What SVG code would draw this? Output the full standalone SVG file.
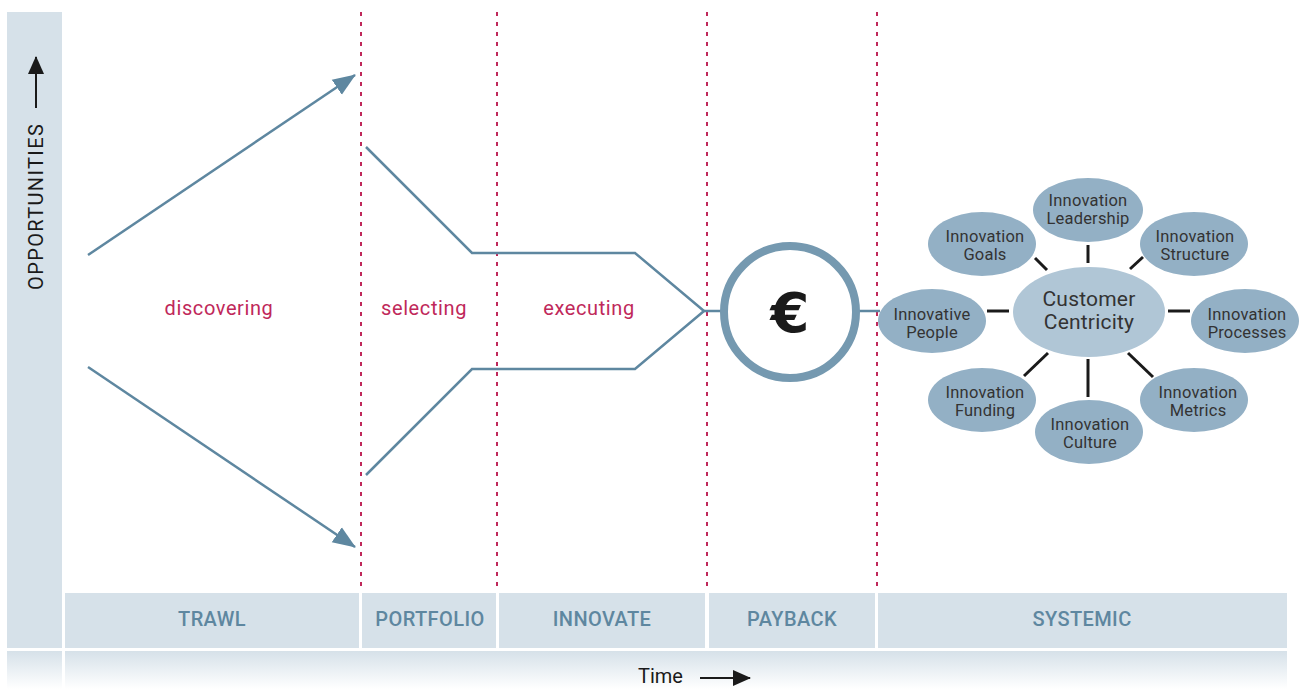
<svg xmlns="http://www.w3.org/2000/svg" width="1301" height="689" viewBox="0 0 1301 689">
<defs>
<linearGradient id="fade" x1="0" y1="0" x2="0" y2="1">
<stop offset="0" stop-color="#d6e1e9"/>
<stop offset="1" stop-color="#ffffff"/>
</linearGradient>
<marker id="ah" markerWidth="24" markerHeight="20" refX="22" refY="10" orient="auto" markerUnits="userSpaceOnUse" viewBox="0 0 24 20">
<path d="M0,1 L23,10 L0,19 Z" fill="#5e87a0"/>
</marker>
<marker id="ahb" markerWidth="18" markerHeight="18" refX="17" refY="9" orient="auto" markerUnits="userSpaceOnUse" viewBox="0 0 18 18">
<path d="M0,1 L18,9 L0,17 Z" fill="#1a1a1a"/>
</marker>
</defs>
<style>
.band{fill:#d6e1e9}
.div{stroke:#c0285a;stroke-width:2;stroke-dasharray:4 6;fill:none}
.flow{stroke:#5e87a0;stroke-width:2.5;fill:none}
.phase{font-family:Roboto,"Liberation Sans",sans-serif;font-size:20px;fill:#c0285a;text-anchor:middle;letter-spacing:0.6px}
.blab{font-family:Roboto,"Liberation Sans",sans-serif;font-size:20px;font-weight:500;fill:#5e87a0;text-anchor:middle;letter-spacing:0.4px}
.el{fill:#93b0c5}
.elt{font-family:Roboto,"Liberation Sans",sans-serif;font-size:16.5px;fill:#333333;text-anchor:middle;letter-spacing:0.2px}
.spoke{stroke:#1a1a1a;stroke-width:3}
</style>
<g id="background">
<rect class="band" x="7" y="12" width="55" height="636"/>
<rect x="7" y="651" width="55" height="38" fill="url(#fade)"/>
<rect x="65" y="651" width="1222" height="38" fill="url(#fade)"/>
</g>
<g id="bands">
<g id="trawl"><rect class="band" x="65" y="593" width="294" height="55"/><text class="blab" x="212" y="626">TRAWL</text></g>
<g id="portfolio"><rect class="band" x="362" y="593" width="134" height="55"/><text class="blab" x="430" y="626">PORTFOLIO</text></g>
<g id="innovate"><rect class="band" x="499" y="593" width="206" height="55"/><text class="blab" x="602" y="626">INNOVATE</text></g>
<g id="payback"><rect class="band" x="709" y="593" width="166" height="55"/><text class="blab" x="792" y="626">PAYBACK</text></g>
<g id="systemic"><rect class="band" x="878" y="593" width="409" height="55"/><text class="blab" x="1082" y="626">SYSTEMIC</text></g>
</g>
<g id="dividers">
<line class="div" x1="361" y1="12" x2="361" y2="590"/>
<line class="div" x1="497" y1="12" x2="497" y2="590"/>
<line class="div" x1="707" y1="12" x2="707" y2="590"/>
<line class="div" x1="877" y1="12" x2="877" y2="590"/>
</g>
<g id="axes">
<text x="43" y="290" transform="rotate(-90 43 290)" font-family="Roboto,'Liberation Sans',sans-serif" font-size="20" fill="#1a1a1a" letter-spacing="1.2" textLength="167">OPPORTUNITIES</text>
<line x1="36" y1="108" x2="36" y2="57" stroke="#1a1a1a" stroke-width="2" marker-end="url(#ahb)"/>
<text x="638" y="683" font-family="Roboto,'Liberation Sans',sans-serif" font-size="20" fill="#1a1a1a">Time</text>
<line x1="700" y1="678" x2="750" y2="678" stroke="#1a1a1a" stroke-width="2" marker-end="url(#ahb)"/>
</g>
<g id="connectors">
<line class="flow" x1="88" y1="255" x2="355" y2="75" marker-end="url(#ah)"/>
<line class="flow" x1="88" y1="367" x2="355" y2="547" marker-end="url(#ah)"/>
<polyline class="flow" points="366,147 472,253 635,253 704,311"/>
<polyline class="flow" points="366,475 472,369 635,369 704,311"/>
<line class="flow" x1="704" y1="311" x2="722" y2="311"/>
<line class="flow" x1="858" y1="311" x2="880" y2="311"/>
<line class="spoke" x1="1088" y1="245" x2="1088" y2="263"/>
<line class="spoke" x1="1035" y1="258" x2="1047" y2="270"/>
<line class="spoke" x1="1143" y1="257" x2="1130" y2="269"/>
<line class="spoke" x1="987" y1="311" x2="1009" y2="311"/>
<line class="spoke" x1="1168" y1="311" x2="1190" y2="311"/>
<line class="spoke" x1="1048" y1="353" x2="1024" y2="376"/>
<line class="spoke" x1="1088" y1="359" x2="1088" y2="397"/>
<line class="spoke" x1="1128" y1="353" x2="1153" y2="377"/>
</g>
<g id="phases">
<text class="phase" x="219" y="315">discovering</text>
<text class="phase" x="424" y="315">selecting</text>
<text class="phase" x="589" y="315">executing</text>
</g>
<g id="payback-circle">
<circle cx="790" cy="312" r="66" fill="#ffffff" stroke="#7599b0" stroke-width="8"/>
<text x="790" y="332" font-family="'DejaVu Sans',sans-serif" font-size="56" font-weight="bold" fill="#1a1a1a" text-anchor="middle">€</text>
</g>
<g id="customer-centricity">
<ellipse cx="1089" cy="312" rx="76" ry="45" fill="#b0c6d6"/>
<text class="elt" x="1089" y="306" style="font-size:21px">Customer</text>
<text class="elt" x="1089" y="329" style="font-size:21px">Centricity</text>
</g>
<g id="goals"><ellipse class="el" cx="982" cy="244" rx="54" ry="32"/><text class="elt" x="985" y="242">Innovation</text><text class="elt" x="985" y="260">Goals</text></g>
<g id="leadership"><ellipse class="el" cx="1088" cy="210" rx="55" ry="32"/><text class="elt" x="1088" y="206">Innovation</text><text class="elt" x="1088" y="224">Leadership</text></g>
<g id="structure"><ellipse class="el" cx="1194" cy="244" rx="54" ry="32"/><text class="elt" x="1195" y="242">Innovation</text><text class="elt" x="1195" y="260">Structure</text></g>
<g id="people"><ellipse class="el" cx="932" cy="321" rx="54" ry="32"/><text class="elt" x="932" y="320">Innovative</text><text class="elt" x="932" y="338">People</text></g>
<g id="processes"><ellipse class="el" cx="1245" cy="321" rx="54" ry="32"/><text class="elt" x="1247" y="320">Innovation</text><text class="elt" x="1247" y="338">Processes</text></g>
<g id="funding"><ellipse class="el" cx="982" cy="400" rx="54" ry="32"/><text class="elt" x="985" y="398">Innovation</text><text class="elt" x="985" y="416">Funding</text></g>
<g id="culture"><ellipse class="el" cx="1089" cy="432" rx="54" ry="32"/><text class="elt" x="1090" y="430">Innovation</text><text class="elt" x="1090" y="448">Culture</text></g>
<g id="metrics"><ellipse class="el" cx="1194" cy="400" rx="54" ry="32"/><text class="elt" x="1198" y="398">Innovation</text><text class="elt" x="1198" y="416">Metrics</text></g>
</svg>
